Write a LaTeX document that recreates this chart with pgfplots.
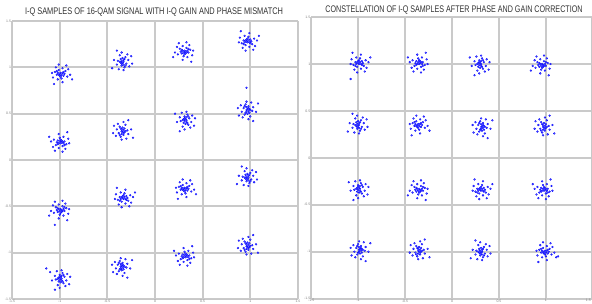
\documentclass[border=0pt]{standalone}
\usepackage{graphicx}
\usepackage{pgfplots}
\pgfplotsset{compat=1.18}
\usepackage{fontspec}
\setmainfont{Liberation Sans}
\definecolor{gridc}{RGB}{202,202,202}
\definecolor{framec}{RGB}{200,200,200}
\definecolor{dotc}{RGB}{0,0,255}
\definecolor{titlec}{RGB}{50,50,50}
\pgfplotsset{qstyle/.style={
  scale only axis,
  xmin=-1.5,xmax=1.5,ymin=-1.5,ymax=1.5,
  xtick={-1.5,-1,-0.5,0,0.5,1,1.5},
  ytick={-1.5,-1,-0.5,0,0.5,1,1.5},
  grid=major, major grid style={gridc, line width=1.8bp},
  axis line style={framec, line width=1bp},
  tick style={draw=none},
  tick label style={font=\fontsize{3.5}{4}\selectfont, text=gray},
  xticklabel style={inner sep=0.8bp},
  yticklabel style={inner sep=0.8bp},
  /pgf/number format/assume math mode=true,
},
dots/.style={only marks, mark=*, mark size=0.95bp, draw=dotc, fill=dotc!60, line width=0.3bp}}
\begin{document}
\begin{tikzpicture}
\path[use as bounding box] (0,0) rectangle (592bp,304bp);
\begin{axis}[qstyle, at={(12bp,5bp)}, anchor=south west, width=286bp, height=278bp]
\addplot[dots] coordinates {
(-0.99,0.94) (-0.96,0.91) (-1.01,0.97) (-0.94,0.96) (-1.03,0.92) (-0.98,0.88) (-1.05,0.95) (-0.97,0.99) (-0.92,0.90) (-1.02,0.87) (-0.95,0.93) (-1.00,0.91) (-0.91,0.98) (-1.07,0.89) (-0.97,0.84) (-1.04,1.00) (-0.93,1.02) (-1.08,0.94) (-0.89,0.92) (-1.01,1.03) (-0.96,0.95) (-1.03,0.96) (-0.98,0.92) (-1.00,0.93) (-0.87,0.87) (-1.06,0.82) (-0.97,0.94) (-1.01,0.92) (-0.99,0.90) (-1.02,0.94)
(-0.33,1.06) (-0.36,1.09) (-0.30,1.04) (-0.31,1.11) (-0.35,1.02) (-0.39,1.07) (-0.32,1.00) (-0.28,1.08) (-0.37,1.13) (-0.40,1.03) (-0.34,1.10) (-0.36,1.05) (-0.29,1.14) (-0.38,0.98) (-0.43,1.08) (-0.27,1.01) (-0.25,1.12) (-0.33,0.97) (-0.35,1.16) (-0.24,1.04) (-0.32,1.09) (-0.31,1.02) (-0.35,1.07) (-0.34,1.05) (-0.40,1.18) (-0.45,0.99) (-0.33,1.08) (-0.35,1.04) (-0.37,1.06) (-0.33,1.03)
(0.31,1.18) (0.28,1.15) (0.33,1.21) (0.26,1.20) (0.35,1.16) (0.30,1.12) (0.37,1.19) (0.29,1.23) (0.24,1.14) (0.34,1.11) (0.27,1.17) (0.32,1.15) (0.23,1.22) (0.39,1.13) (0.29,1.08) (0.36,1.24) (0.25,1.26) (0.40,1.18) (0.21,1.16) (0.33,1.27) (0.28,1.19) (0.35,1.20) (0.30,1.16) (0.32,1.17) (0.19,1.11) (0.38,1.06) (0.29,1.18) (0.33,1.16) (0.31,1.14) (0.34,1.18)
(0.97,1.27) (1.00,1.30) (0.95,1.24) (1.02,1.25) (0.93,1.29) (0.98,1.33) (0.91,1.26) (0.99,1.22) (1.04,1.31) (0.94,1.34) (1.01,1.28) (0.96,1.30) (1.05,1.23) (0.89,1.32) (0.99,1.37) (0.92,1.21) (1.03,1.19) (0.88,1.27) (1.07,1.29) (0.95,1.18) (1.00,1.26) (0.93,1.25) (0.98,1.29) (0.96,1.28) (1.09,1.34) (0.90,1.39) (0.99,1.27) (0.95,1.29) (0.97,1.31) (0.94,1.27)
(-0.99,0.18) (-1.02,0.21) (-0.97,0.15) (-1.04,0.16) (-0.95,0.20) (-1.00,0.24) (-0.93,0.17) (-1.01,0.13) (-1.06,0.22) (-0.96,0.25) (-1.03,0.19) (-0.98,0.21) (-1.07,0.14) (-0.91,0.23) (-1.01,0.28) (-0.94,0.12) (-1.05,0.10) (-0.90,0.18) (-1.09,0.20) (-0.97,0.09) (-1.02,0.17) (-0.95,0.16) (-1.00,0.20) (-0.98,0.19) (-1.11,0.25) (-0.92,0.30) (-1.01,0.18) (-0.97,0.20) (-0.99,0.22) (-0.96,0.18)
(-0.35,0.31) (-0.32,0.34) (-0.38,0.29) (-0.37,0.36) (-0.33,0.27) (-0.29,0.32) (-0.36,0.25) (-0.40,0.33) (-0.31,0.38) (-0.28,0.28) (-0.34,0.35) (-0.32,0.30) (-0.39,0.39) (-0.30,0.23) (-0.25,0.33) (-0.41,0.26) (-0.43,0.37) (-0.35,0.22) (-0.33,0.41) (-0.44,0.29) (-0.36,0.34) (-0.37,0.27) (-0.33,0.32) (-0.34,0.30) (-0.28,0.43) (-0.23,0.24) (-0.35,0.33) (-0.33,0.29) (-0.31,0.31) (-0.35,0.28)
(0.33,0.43) (0.30,0.40) (0.36,0.45) (0.35,0.38) (0.31,0.47) (0.27,0.42) (0.34,0.49) (0.38,0.41) (0.29,0.36) (0.26,0.46) (0.32,0.39) (0.30,0.44) (0.37,0.35) (0.28,0.51) (0.23,0.41) (0.39,0.48) (0.41,0.37) (0.33,0.52) (0.31,0.33) (0.42,0.45) (0.34,0.40) (0.35,0.47) (0.31,0.42) (0.32,0.44) (0.26,0.31) (0.21,0.50) (0.33,0.41) (0.31,0.45) (0.29,0.43) (0.33,0.46)
(0.96,0.54) (0.99,0.51) (0.93,0.56) (0.94,0.49) (0.98,0.58) (1.02,0.53) (0.95,0.60) (0.91,0.52) (1.00,0.47) (1.03,0.57) (0.97,0.50) (0.99,0.55) (0.92,0.46) (1.01,0.62) (1.06,0.52) (0.90,0.59) (0.88,0.48) (0.96,0.63) (0.98,0.44) (0.87,0.56) (0.95,0.51) (0.94,0.58) (0.98,0.53) (0.97,0.55) (1.03,0.42) (1.08,0.61) (0.96,0.52) (0.98,0.56) (1.00,0.54) (0.96,0.57) (0.96,0.78)
(-0.99,-0.53) (-1.02,-0.56) (-0.97,-0.50) (-1.04,-0.51) (-0.95,-0.55) (-1.00,-0.59) (-0.93,-0.52) (-1.01,-0.48) (-1.06,-0.57) (-0.96,-0.60) (-1.03,-0.54) (-0.98,-0.56) (-1.07,-0.49) (-0.91,-0.58) (-1.01,-0.63) (-0.94,-0.47) (-1.05,-0.45) (-0.90,-0.53) (-1.09,-0.55) (-0.97,-0.44) (-1.02,-0.52) (-0.95,-0.51) (-1.00,-0.55) (-0.98,-0.54) (-1.11,-0.60) (-0.92,-0.65) (-1.01,-0.53) (-0.97,-0.55) (-0.99,-0.57) (-0.96,-0.53) (-1.05,-0.70)
(-0.33,-0.42) (-0.30,-0.39) (-0.35,-0.45) (-0.28,-0.44) (-0.37,-0.40) (-0.32,-0.36) (-0.39,-0.43) (-0.31,-0.47) (-0.26,-0.38) (-0.36,-0.35) (-0.29,-0.41) (-0.34,-0.39) (-0.25,-0.46) (-0.41,-0.37) (-0.31,-0.32) (-0.38,-0.48) (-0.27,-0.50) (-0.42,-0.42) (-0.23,-0.40) (-0.35,-0.51) (-0.30,-0.43) (-0.37,-0.44) (-0.32,-0.40) (-0.34,-0.41) (-0.21,-0.35) (-0.40,-0.30) (-0.31,-0.42) (-0.35,-0.40) (-0.33,-0.38) (-0.36,-0.42)
(0.31,-0.30) (0.34,-0.33) (0.29,-0.27) (0.36,-0.28) (0.27,-0.32) (0.32,-0.36) (0.25,-0.29) (0.33,-0.25) (0.38,-0.34) (0.28,-0.37) (0.35,-0.31) (0.30,-0.33) (0.39,-0.26) (0.23,-0.35) (0.33,-0.40) (0.26,-0.24) (0.37,-0.22) (0.22,-0.30) (0.41,-0.32) (0.29,-0.21) (0.34,-0.29) (0.27,-0.28) (0.32,-0.32) (0.30,-0.31) (0.43,-0.37) (0.24,-0.42) (0.33,-0.30) (0.29,-0.32) (0.31,-0.34) (0.28,-0.30)
(0.98,-0.19) (0.95,-0.16) (1.01,-0.21) (1.00,-0.14) (0.96,-0.23) (0.92,-0.18) (0.99,-0.25) (1.03,-0.17) (0.94,-0.12) (0.91,-0.22) (0.97,-0.15) (0.95,-0.20) (1.02,-0.11) (0.93,-0.27) (0.88,-0.17) (1.04,-0.24) (1.06,-0.13) (0.98,-0.28) (0.96,-0.09) (1.07,-0.21) (0.99,-0.16) (1.00,-0.23) (0.96,-0.18) (0.97,-0.20) (0.91,-0.07) (0.86,-0.26) (0.98,-0.17) (0.96,-0.21) (0.94,-0.19) (0.98,-0.22)
(-0.98,-1.28) (-1.01,-1.31) (-0.95,-1.26) (-0.96,-1.33) (-1.00,-1.24) (-1.04,-1.29) (-0.97,-1.22) (-0.93,-1.30) (-1.02,-1.35) (-1.05,-1.25) (-0.99,-1.32) (-1.01,-1.27) (-0.94,-1.36) (-1.03,-1.20) (-1.08,-1.30) (-0.92,-1.23) (-0.90,-1.34) (-0.98,-1.19) (-1.00,-1.38) (-0.89,-1.26) (-0.97,-1.31) (-0.96,-1.24) (-1.00,-1.29) (-0.99,-1.27) (-1.05,-1.40) (-1.10,-1.21) (-0.98,-1.30) (-1.00,-1.26) (-1.02,-1.28) (-0.98,-1.25) (-1.14,-1.17)
(-0.36,-1.15) (-0.33,-1.18) (-0.39,-1.13) (-0.38,-1.20) (-0.34,-1.11) (-0.30,-1.16) (-0.37,-1.09) (-0.41,-1.17) (-0.32,-1.22) (-0.29,-1.12) (-0.35,-1.19) (-0.33,-1.14) (-0.40,-1.23) (-0.31,-1.07) (-0.26,-1.17) (-0.42,-1.10) (-0.44,-1.21) (-0.36,-1.06) (-0.34,-1.25) (-0.45,-1.13) (-0.37,-1.18) (-0.38,-1.11) (-0.34,-1.16) (-0.35,-1.14) (-0.29,-1.27) (-0.24,-1.08) (-0.36,-1.17) (-0.34,-1.13) (-0.32,-1.15) (-0.36,-1.12)
(0.32,-1.05) (0.29,-1.02) (0.34,-1.08) (0.27,-1.07) (0.36,-1.03) (0.31,-0.99) (0.38,-1.06) (0.30,-1.10) (0.25,-1.01) (0.35,-0.98) (0.28,-1.04) (0.33,-1.02) (0.24,-1.09) (0.40,-1.00) (0.30,-0.95) (0.37,-1.11) (0.26,-1.13) (0.41,-1.05) (0.22,-1.03) (0.34,-1.14) (0.29,-1.06) (0.36,-1.07) (0.31,-1.03) (0.33,-1.04) (0.20,-0.98) (0.39,-0.93) (0.30,-1.05) (0.34,-1.03) (0.32,-1.01) (0.35,-1.05)
(0.96,-0.93) (0.99,-0.90) (0.93,-0.95) (0.94,-0.88) (0.98,-0.97) (1.02,-0.92) (0.95,-0.99) (0.91,-0.91) (1.00,-0.86) (1.03,-0.96) (0.97,-0.89) (0.99,-0.94) (0.92,-0.85) (1.01,-1.01) (1.06,-0.91) (0.90,-0.98) (0.88,-0.87) (0.96,-1.02) (0.98,-0.83) (0.87,-0.95) (0.95,-0.90) (0.94,-0.97) (0.98,-0.92) (0.97,-0.94) (1.03,-0.81) (1.08,-1.00) (0.96,-0.91) (0.98,-0.95) (1.00,-0.93) (0.96,-0.96)
};
\end{axis}
\begin{axis}[qstyle, at={(311.2bp,5.4bp)}, anchor=south west, width=280.6bp, height=281.5bp,
  xmax=1.4894, xtick={-1.5,-1,-0.5,0,0.5,1},
  extra x ticks={1.4894}, extra x tick labels={1.5},
  extra x tick style={grid=none, xticklabel style={anchor=north east, inner sep=0.8bp}}]
\addplot[dots] coordinates {
(-0.99,1.00) (-0.96,1.03) (-1.01,0.97) (-0.94,0.98) (-1.03,1.02) (-0.98,1.06) (-1.05,0.99) (-0.97,0.95) (-0.92,1.04) (-1.02,1.07) (-0.95,1.01) (-1.00,1.03) (-0.91,0.96) (-1.07,1.05) (-0.97,1.10) (-1.04,0.94) (-0.93,0.92) (-1.08,1.00) (-0.89,1.02) (-1.01,0.91) (-0.96,0.99) (-1.03,0.98) (-0.98,1.02) (-1.00,1.01) (-0.87,1.07) (-1.06,1.12) (-0.97,1.00) (-1.01,1.02) (-0.99,1.04) (-1.02,1.00) (-1.08,0.84)
(-0.35,1.00) (-0.38,1.03) (-0.33,0.97) (-0.40,0.98) (-0.31,1.02) (-0.36,1.06) (-0.29,0.99) (-0.37,0.95) (-0.42,1.04) (-0.32,1.07) (-0.39,1.01) (-0.34,1.03) (-0.43,0.96) (-0.27,1.05) (-0.37,1.10) (-0.30,0.94) (-0.41,0.92) (-0.26,1.00) (-0.45,1.02) (-0.33,0.91) (-0.38,0.99) (-0.31,0.98) (-0.36,1.02) (-0.34,1.01) (-0.47,1.07) (-0.28,1.12) (-0.37,1.00) (-0.33,1.02) (-0.35,1.04) (-0.32,1.00)
(0.31,1.00) (0.28,0.97) (0.34,1.02) (0.33,0.95) (0.29,1.04) (0.25,0.99) (0.32,1.06) (0.36,0.98) (0.27,0.93) (0.24,1.03) (0.30,0.96) (0.28,1.01) (0.35,0.92) (0.26,1.08) (0.21,0.98) (0.37,1.05) (0.39,0.94) (0.31,1.09) (0.29,0.90) (0.40,1.02) (0.32,0.97) (0.33,1.04) (0.29,0.99) (0.30,1.01) (0.24,0.88) (0.19,1.07) (0.31,0.98) (0.29,1.02) (0.27,1.00) (0.31,1.03)
(0.96,1.00) (0.93,0.97) (0.98,1.03) (0.91,1.02) (1.00,0.98) (0.95,0.94) (1.02,1.01) (0.94,1.05) (0.89,0.96) (0.99,0.93) (0.92,0.99) (0.97,0.97) (0.88,1.04) (1.04,0.95) (0.94,0.90) (1.01,1.06) (0.90,1.08) (1.05,1.00) (0.86,0.98) (0.98,1.09) (0.93,1.01) (1.00,1.02) (0.95,0.98) (0.97,0.99) (0.84,0.93) (1.03,0.88) (0.94,1.00) (0.98,0.98) (0.96,0.96) (0.99,1.00)
(-0.99,0.35) (-1.02,0.38) (-0.96,0.33) (-0.97,0.40) (-1.01,0.31) (-1.05,0.36) (-0.98,0.29) (-0.94,0.37) (-1.03,0.42) (-1.06,0.32) (-1.00,0.39) (-1.02,0.34) (-0.95,0.43) (-1.04,0.27) (-1.09,0.37) (-0.93,0.30) (-0.91,0.41) (-0.99,0.26) (-1.01,0.45) (-0.90,0.33) (-0.98,0.38) (-0.97,0.31) (-1.01,0.36) (-1.00,0.34) (-1.06,0.47) (-1.11,0.28) (-0.99,0.37) (-1.01,0.33) (-1.03,0.35) (-0.99,0.32)
(-0.36,0.36) (-0.33,0.33) (-0.38,0.39) (-0.31,0.38) (-0.40,0.34) (-0.35,0.30) (-0.42,0.37) (-0.34,0.41) (-0.29,0.32) (-0.39,0.29) (-0.32,0.35) (-0.37,0.33) (-0.28,0.40) (-0.44,0.31) (-0.34,0.26) (-0.41,0.42) (-0.30,0.44) (-0.45,0.36) (-0.26,0.34) (-0.38,0.45) (-0.33,0.37) (-0.40,0.38) (-0.35,0.34) (-0.37,0.35) (-0.24,0.29) (-0.43,0.24) (-0.34,0.36) (-0.38,0.34) (-0.36,0.32) (-0.39,0.36)
(0.31,0.33) (0.34,0.30) (0.28,0.35) (0.29,0.28) (0.33,0.37) (0.37,0.32) (0.30,0.39) (0.26,0.31) (0.35,0.26) (0.38,0.36) (0.32,0.29) (0.34,0.34) (0.27,0.25) (0.36,0.41) (0.41,0.31) (0.25,0.38) (0.23,0.27) (0.31,0.42) (0.33,0.23) (0.22,0.35) (0.30,0.30) (0.29,0.37) (0.33,0.32) (0.32,0.34) (0.38,0.21) (0.43,0.40) (0.31,0.31) (0.33,0.35) (0.35,0.33) (0.31,0.36)
(0.97,0.33) (1.00,0.36) (0.94,0.31) (0.95,0.38) (0.99,0.29) (1.03,0.34) (0.96,0.27) (0.92,0.35) (1.01,0.40) (1.04,0.30) (0.98,0.37) (1.00,0.32) (0.93,0.41) (1.02,0.25) (1.07,0.35) (0.91,0.28) (0.89,0.39) (0.97,0.24) (0.99,0.43) (0.88,0.31) (0.96,0.36) (0.95,0.29) (0.99,0.34) (0.98,0.32) (1.04,0.45) (1.09,0.26) (0.97,0.35) (0.99,0.31) (1.01,0.33) (0.97,0.30)
(-0.98,-0.33) (-1.01,-0.36) (-0.95,-0.31) (-0.96,-0.38) (-1.00,-0.29) (-1.04,-0.34) (-0.97,-0.27) (-0.93,-0.35) (-1.02,-0.40) (-1.05,-0.30) (-0.99,-0.37) (-1.01,-0.32) (-0.94,-0.41) (-1.03,-0.25) (-1.08,-0.35) (-0.92,-0.28) (-0.90,-0.39) (-0.98,-0.24) (-1.00,-0.43) (-0.89,-0.31) (-0.97,-0.36) (-0.96,-0.29) (-1.00,-0.34) (-0.99,-0.32) (-1.05,-0.45) (-1.10,-0.26) (-0.98,-0.35) (-1.00,-0.31) (-1.02,-0.33) (-0.98,-0.30)
(-0.35,-0.33) (-0.38,-0.36) (-0.33,-0.30) (-0.40,-0.31) (-0.31,-0.35) (-0.36,-0.39) (-0.29,-0.32) (-0.37,-0.28) (-0.42,-0.37) (-0.32,-0.40) (-0.39,-0.34) (-0.34,-0.36) (-0.43,-0.29) (-0.27,-0.38) (-0.37,-0.43) (-0.30,-0.27) (-0.41,-0.25) (-0.26,-0.33) (-0.45,-0.35) (-0.33,-0.24) (-0.38,-0.32) (-0.31,-0.31) (-0.36,-0.35) (-0.34,-0.34) (-0.47,-0.40) (-0.28,-0.45) (-0.37,-0.33) (-0.33,-0.35) (-0.35,-0.37) (-0.32,-0.33)
(0.31,-0.35) (0.34,-0.32) (0.29,-0.38) (0.36,-0.37) (0.27,-0.33) (0.32,-0.29) (0.25,-0.36) (0.33,-0.40) (0.38,-0.31) (0.28,-0.28) (0.35,-0.34) (0.30,-0.32) (0.39,-0.39) (0.23,-0.30) (0.33,-0.25) (0.26,-0.41) (0.37,-0.43) (0.22,-0.35) (0.41,-0.33) (0.29,-0.44) (0.34,-0.36) (0.27,-0.37) (0.32,-0.33) (0.30,-0.34) (0.43,-0.28) (0.24,-0.23) (0.33,-0.35) (0.29,-0.33) (0.31,-0.31) (0.28,-0.35)
(0.98,-0.35) (0.95,-0.32) (1.00,-0.38) (0.93,-0.37) (1.02,-0.33) (0.97,-0.29) (1.04,-0.36) (0.96,-0.40) (0.91,-0.31) (1.01,-0.28) (0.94,-0.34) (0.99,-0.32) (0.90,-0.39) (1.06,-0.30) (0.96,-0.25) (1.03,-0.41) (0.92,-0.43) (1.07,-0.35) (0.88,-0.33) (1.00,-0.44) (0.95,-0.36) (1.02,-0.37) (0.97,-0.33) (0.99,-0.34) (0.86,-0.28) (1.05,-0.23) (0.96,-0.35) (1.00,-0.33) (0.98,-0.31) (1.01,-0.35)
(-0.99,-0.98) (-0.96,-1.01) (-1.02,-0.96) (-1.01,-1.03) (-0.97,-0.94) (-0.93,-0.99) (-1.00,-0.92) (-1.04,-1.00) (-0.95,-1.05) (-0.92,-0.95) (-0.98,-1.02) (-0.96,-0.97) (-1.03,-1.06) (-0.94,-0.90) (-0.89,-1.00) (-1.05,-0.93) (-1.07,-1.04) (-0.99,-0.89) (-0.97,-1.08) (-1.08,-0.96) (-1.00,-1.01) (-1.01,-0.94) (-0.97,-0.99) (-0.98,-0.97) (-0.92,-1.10) (-0.87,-0.91) (-0.99,-1.00) (-0.97,-0.96) (-0.95,-0.98) (-0.99,-0.95)
(-0.36,-0.99) (-0.33,-0.96) (-0.39,-1.01) (-0.38,-0.94) (-0.34,-1.03) (-0.30,-0.98) (-0.37,-1.05) (-0.41,-0.97) (-0.32,-0.92) (-0.29,-1.02) (-0.35,-0.95) (-0.33,-1.00) (-0.40,-0.91) (-0.31,-1.07) (-0.26,-0.97) (-0.42,-1.04) (-0.44,-0.93) (-0.36,-1.08) (-0.34,-0.89) (-0.45,-1.01) (-0.37,-0.96) (-0.38,-1.03) (-0.34,-0.98) (-0.35,-1.00) (-0.29,-0.87) (-0.24,-1.06) (-0.36,-0.97) (-0.34,-1.01) (-0.32,-0.99) (-0.36,-1.02)
(0.32,-1.00) (0.29,-0.97) (0.35,-1.02) (0.34,-0.95) (0.30,-1.04) (0.26,-0.99) (0.33,-1.06) (0.37,-0.98) (0.28,-0.93) (0.25,-1.03) (0.31,-0.96) (0.29,-1.01) (0.36,-0.92) (0.27,-1.08) (0.22,-0.98) (0.38,-1.05) (0.40,-0.94) (0.32,-1.09) (0.30,-0.90) (0.41,-1.02) (0.33,-0.97) (0.34,-1.04) (0.30,-0.99) (0.31,-1.01) (0.25,-0.88) (0.20,-1.07) (0.32,-0.98) (0.30,-1.02) (0.28,-1.00) (0.32,-1.03)
(0.99,-0.99) (1.02,-1.02) (0.97,-0.96) (1.04,-0.97) (0.95,-1.01) (1.00,-1.05) (0.93,-0.98) (1.01,-0.94) (1.06,-1.03) (0.96,-1.06) (1.03,-1.00) (0.98,-1.02) (1.07,-0.95) (0.91,-1.04) (1.01,-1.09) (0.94,-0.93) (1.05,-0.91) (0.90,-0.99) (1.09,-1.01) (0.97,-0.90) (1.02,-0.98) (0.95,-0.97) (1.00,-1.01) (0.98,-1.00) (1.11,-1.06) (0.92,-1.11) (1.01,-0.99) (0.97,-1.01) (0.99,-1.03) (0.96,-0.99) (1.13,-1.05)
};
\end{axis}
\node[text=titlec, inner sep=0pt] at (154bp,291.5bp) {\resizebox{258bp}{6.7bp}{I-Q SAMPLES OF 16-QAM SIGNAL WITH I-Q GAIN AND PHASE MISMATCH}};
\node[text=titlec, inner sep=0pt] at (454bp,293.5bp) {\resizebox{257bp}{6.7bp}{CONSTELLATION OF I-Q SAMPLES AFTER PHASE AND GAIN CORRECTION}};
\end{tikzpicture}
\end{document}
